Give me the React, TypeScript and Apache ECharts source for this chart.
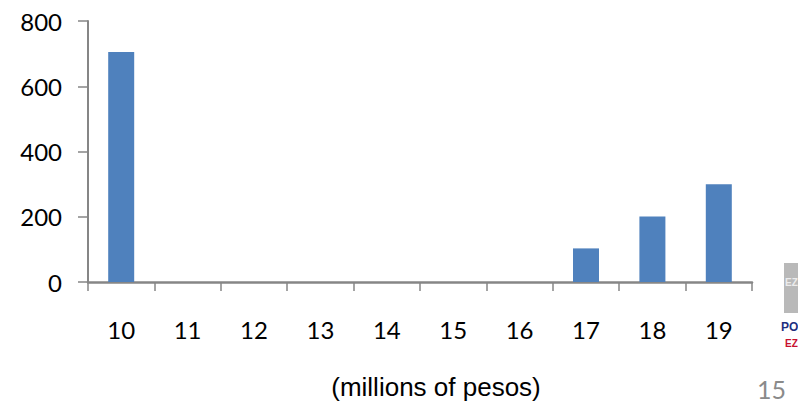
import React, { useEffect, useRef } from "react";
import * as echarts from "echarts";

const categories = ["10", "11", "12", "13", "14", "15", "16", "17", "18", "19"];
const counts = [705, 0, 0, 0, 0, 0, 0, 103, 201, 300];
const axisTitle = "(millions of pesos)";
const pageNumber = "15";

const AXIS_GREY = "#868686";

export default function App() {
  const ref = useRef<HTMLDivElement>(null);

  useEffect(() => {
    const chart = echarts.init(ref.current!, undefined, { renderer: "svg" });
    chart.setOption({
      animation: false,
      backgroundColor: "#ffffff",
      grid: { left: 88, right: 46, top: 21, bottom: 120, outerBoundsMode: "none" },
      xAxis: {
        type: "category",
        data: categories,
        boundaryGap: true,
        axisLine: { onZero: true, lineStyle: { color: AXIS_GREY, width: 2.5 } },
        axisTick: { show: true, alignWithLabel: false, length: 9, lineStyle: { color: AXIS_GREY, width: 1.5 } },
        axisLabel: { color: "#000", fontFamily: "Lato", fontSize: 24, margin: 35 },
        name: axisTitle,
        nameLocation: "middle",
        nameGap: 92,
        nameTextStyle: { color: "#000", fontFamily: "Liberation Sans", fontSize: 26, padding: [0, 0, 0, 32] },
      },
      yAxis: {
        type: "value",
        min: 0,
        max: 800,
        interval: 200,
        splitLine: { show: false },
        axisLine: { show: true, lineStyle: { color: AXIS_GREY, width: 2 } },
        axisTick: { show: true, length: 10, lineStyle: { color: AXIS_GREY, width: 1.5 } },
        axisLabel: { color: "#000", fontFamily: "Lato", fontSize: 24, margin: 26 },
      },
      series: [
        {
          type: "bar",
          data: counts,
          barWidth: 26,
          itemStyle: { color: "#4f81bd" },
        },
      ],
      graphic: [
        // Logo at the right edge of the slide
        { type: "rect", shape: { x: 784, y: 263, width: 14, height: 50 }, style: { fill: "#b9b9b9" } },
        { type: "text", x: 785, y: 277, style: { text: "EZ", fill: "#ececec", font: "bold 10px 'Liberation Sans'" } },
        { type: "text", x: 781, y: 321, style: { text: "PO", fill: "#1f2f7f", font: "bold 12px 'Liberation Sans'" } },
        { type: "text", x: 785, y: 338, style: { text: "EZ", fill: "#c8102e", font: "bold 10px 'Liberation Sans'" } },
        { type: "text", x: 757, y: 376, style: { text: pageNumber, fill: "#8a8a8a", font: "25px Lato" } },
      ],
    });
    return () => chart.dispose();
  }, []);

  return (
    <div
      ref={ref}
      style={{ position: "fixed", left: 0, top: 0, width: 798, height: 402 }}
    />
  );
}
